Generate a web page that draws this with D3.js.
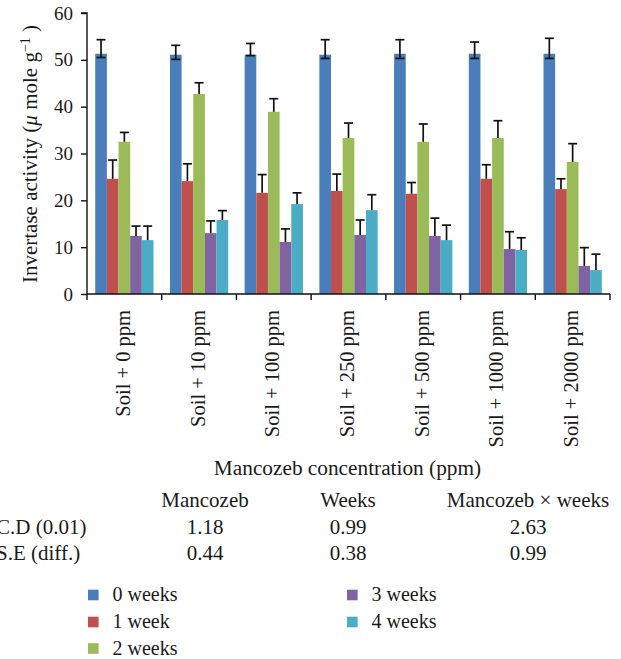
<!DOCTYPE html>
<html>
<head>
<meta charset="utf-8">
<script src="https://cdn.jsdelivr.net/npm/d3@7"></script>
<style>
  body { margin: 0; background: #fff; }
  text { font-family: "Liberation Serif", "Times New Roman", serif; fill: #1a1a1a; }
</style>
</head>
<body>
<div id="plot"></div>
<script>
// Data
const categories = ["Soil + 0 ppm", "Soil + 10 ppm", "Soil + 100 ppm", "Soil + 250 ppm",
  "Soil + 500 ppm", "Soil + 1000 ppm", "Soil + 2000 ppm"];
const series = ["0 weeks", "1 week", "2 weeks", "3 weeks", "4 weeks"];
const colors = ["#4a7ebb", "#c0504d", "#9bbb59", "#8064a2", "#4bacc6"];

const week0 = [51.3, 51.1, 51.1, 51.1, 51.3, 51.3, 51.3];
const week1 = [24.6, 24.1, 21.6, 22.0, 21.4, 24.6, 22.4];
const week2 = [32.5, 42.7, 38.9, 33.3, 32.5, 33.3, 28.2];
const week3 = [12.4, 13.0, 11.1, 12.6, 12.4, 9.6, 6.0];
const week4 = [11.5, 15.8, 19.2, 17.9, 11.5, 9.4, 5.1];

// top of error bars
const err0 = [54.3, 53.1, 53.5, 54.3, 54.3, 53.8, 54.6];
const err1 = [28.6, 27.8, 25.5, 25.6, 23.8, 27.6, 24.6];
const err2 = [34.5, 45.1, 41.7, 36.5, 36.3, 37.0, 32.1];
const err3 = [14.5, 15.6, 13.9, 15.8, 16.2, 13.3, 9.9];
const err4 = [14.5, 17.8, 21.6, 21.2, 14.7, 12.0, 8.5];
// lower cap of the blue error bars (only visible ones)
const err0Low = [50.5, 50.1, 50.9, 50.3, 50.3, 50.3, 50.3];

const yTicks = [0, 10, 20, 30, 40, 50, 60];

const tableCols = ["Mancozeb", "Weeks", "Mancozeb × weeks"];
const tableRows = ["C.D (0.01)", "S.E (diff.)"];
const cdValues = ["1.18", "0.99", "2.63"];
const seValues = ["0.44", "0.38", "0.99"];

const values = [week0, week1, week2, week3, week4];
const errs = [err0, err1, err2, err3, err4];

const W = 621, H = 659;
const plot = {left: 87, right: 610, top: 13, bottom: 294};

const svg = d3.select("#plot").append("svg")
  .attr("width", W).attr("height", H);

const x0 = d3.scaleBand().domain(categories).range([plot.left, plot.right])
  .paddingInner(0.22).paddingOuter(0.11);
const x1 = d3.scaleBand().domain(series).range([0, x0.bandwidth()]);
const y = d3.scaleLinear().domain([0, 60]).range([plot.bottom, plot.top]);

// bars
const groups = svg.selectAll("g.grp").data(categories).join("g")
  .attr("class", "grp")
  .attr("transform", d => `translate(${x0(d)},0)`);

series.forEach((s, si) => {
  groups.append("rect")
    .attr("x", x1(s))
    .attr("width", x1.bandwidth())
    .attr("y", (d, i) => y(values[si][i]))
    .attr("height", (d, i) => y(0) - y(values[si][i]))
    .attr("fill", colors[si]);
});

// error bars
const capW = 4.5;
series.forEach((s, si) => {
  const cx = x1(s) + x1.bandwidth() / 2;
  groups.each(function(d, i) {
    const g = d3.select(this);
    const lowV = si === 0 ? err0Low[i] : values[si][i];
    g.append("line")
      .attr("x1", cx).attr("x2", cx)
      .attr("y1", y(lowV)).attr("y2", y(errs[si][i]))
      .attr("stroke", "#111").attr("stroke-width", 1.7);
    g.append("line")
      .attr("x1", cx - capW).attr("x2", cx + capW)
      .attr("y1", y(errs[si][i])).attr("y2", y(errs[si][i]))
      .attr("stroke", "#111").attr("stroke-width", 1.7);
    if (si === 0) {
      g.append("line")
        .attr("x1", cx - capW).attr("x2", cx + capW)
        .attr("y1", y(lowV)).attr("y2", y(lowV))
        .attr("stroke", "#111").attr("stroke-width", 1.7);
    }
  });
});

// y axis
const yAxis = svg.append("g")
  .attr("transform", `translate(${plot.left},0)`)
  .call(d3.axisLeft(y).tickValues(yTicks).tickSize(6).tickPadding(8));
yAxis.select(".domain").attr("stroke", "#111").attr("stroke-width", 1.4)
  .attr("d", `M-6,${plot.top}H0V${plot.bottom}`);
yAxis.selectAll(".tick line").attr("stroke", "#111").attr("stroke-width", 1.4);
yAxis.selectAll(".tick text")
  .style("font-family", "Liberation Serif, serif").style("font-size", "19px").attr("fill", "#1a1a1a");

// x axis: line with ticks at group boundaries
const bounds = d3.range(categories.length + 1).map(i => plot.left + i * x0.step());
svg.append("line")
  .attr("x1", plot.left).attr("x2", plot.right).attr("y1", plot.bottom).attr("y2", plot.bottom)
  .attr("stroke", "#111").attr("stroke-width", 1.4);
svg.selectAll("line.xt").data(bounds).join("line")
  .attr("class", "xt")
  .attr("x1", d => d).attr("x2", d => d)
  .attr("y1", plot.bottom).attr("y2", plot.bottom + 6)
  .attr("stroke", "#111").attr("stroke-width", 1.4);

// category labels (rotated)
svg.selectAll("text.cat").data(categories).join("text")
  .attr("class", "cat")
  .attr("transform", d => `translate(${x0(d) + x0.bandwidth() / 2 + 5.5},${plot.bottom + 16}) rotate(-90)`)
  .attr("text-anchor", "end")
  .style("font-size", "20.5px")
  .text(d => d);

// axis titles
const yt = svg.append("text")
  .attr("transform", `translate(37,154) rotate(-90)`)
  .attr("text-anchor", "middle")
  .style("font-size", "21px");
yt.append("tspan").text("Invertase activity (");
yt.append("tspan").style("font-style", "italic").text("μ");
yt.append("tspan").text(" mole g");
yt.append("tspan").attr("baseline-shift", "super").style("font-size", "14px").text("−1");
yt.append("tspan").text(" )");

svg.append("text")
  .attr("x", 347.5).attr("y", 475)
  .attr("text-anchor", "middle")
  .style("font-size", "21.3px")
  .text("Mancozeb concentration (ppm)");

// statistics table
const colX = [205, 348, 528];
svg.selectAll("text.th").data(tableCols).join("text")
  .attr("class", "th")
  .attr("x", (d, i) => colX[i]).attr("y", 507)
  .attr("text-anchor", "middle").style("font-size", "21px")
  .text(d => d);
const rowY = [533.5, 560];
[cdValues, seValues].forEach((row, ri) => {
  svg.append("text")
    .attr("x", -4).attr("y", rowY[ri])
    .style("font-size", "21px")
    .text(tableRows[ri]);
  svg.selectAll(null).data(row).join("text")
    .attr("x", (d, i) => colX[i]).attr("y", rowY[ri])
    .attr("text-anchor", "middle").style("font-size", "21px")
    .text(d => d);
});

// legend
const legPos = [[88, 595], [88, 622], [88, 648.5], [347, 595], [347, 622]];
const leg = svg.selectAll("g.leg").data(series).join("g")
  .attr("class", "leg")
  .attr("transform", (d, i) => `translate(${legPos[i][0]},${legPos[i][1]})`);
leg.append("rect")
  .attr("x", 0).attr("y", -5.3).attr("width", 10.6).attr("height", 10.6)
  .attr("fill", (d, i) => colors[i]);
leg.append("text")
  .attr("x", 24.5).attr("y", 6)
  .style("font-size", "20px")
  .text(d => d);
</script>
</body>
</html>
